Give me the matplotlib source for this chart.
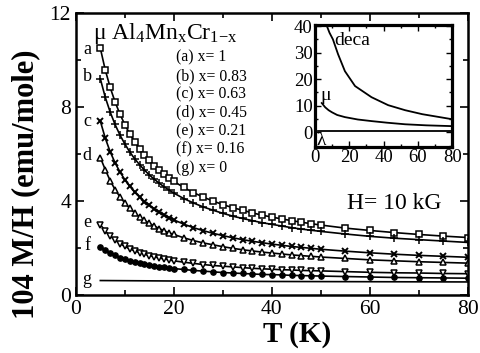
import matplotlib
matplotlib.use("Agg")
import matplotlib.pyplot as plt
from matplotlib.ticker import MultipleLocator

plt.rcParams['font.family'] = ['Liberation Serif', 'DejaVu Serif']
plt.rcParams['mathtext.fontset'] = 'custom'
plt.rcParams['mathtext.rm'] = 'Liberation Serif'
plt.rcParams['mathtext.it'] = 'Liberation Serif:italic'

# temperatures (K) of the measured points
T = [5, 6, 7, 8, 9, 10, 11, 12, 13, 14, 15, 16, 17, 18, 19, 20,
     22, 24, 26, 28, 30, 32, 34, 36, 38, 40, 42, 44, 46, 48, 50,
     55, 60, 65, 70, 75, 80]

# 10^4 M/H (emu/mole)
a = [10.50, 9.58, 8.84, 8.22, 7.70, 7.25, 6.86, 6.53, 6.23, 5.96, 5.73, 5.51, 5.32, 5.15, 4.99, 4.84,
     4.58, 4.36, 4.17, 4.00, 3.85, 3.72, 3.61, 3.50, 3.40, 3.32, 3.24, 3.17, 3.10, 3.04, 2.98,
     2.85, 2.75, 2.66, 2.58, 2.51, 2.45]
b = [9.20, 8.42, 7.79, 7.26, 6.81, 6.43, 6.09, 5.80, 5.55, 5.32, 5.11, 4.93, 4.76, 4.61, 4.47, 4.34,
     4.11, 3.92, 3.75, 3.61, 3.48, 3.36, 3.26, 3.17, 3.08, 3.01, 2.94, 2.87, 2.81, 2.76, 2.71,
     2.60, 2.50, 2.42, 2.36, 2.30, 2.24]
c = [7.40, 6.68, 6.10, 5.63, 5.24, 4.91, 4.63, 4.38, 4.17, 3.98, 3.82, 3.67, 3.53, 3.41, 3.30, 3.20,
     3.02, 2.87, 2.74, 2.63, 2.53, 2.44, 2.36, 2.29, 2.23, 2.17, 2.12, 2.07, 2.03, 1.99, 1.95,
     1.87, 1.80, 1.74, 1.69, 1.65, 1.61]
d = [5.85, 5.34, 4.87, 4.49, 4.18, 3.92, 3.69, 3.50, 3.33, 3.18, 3.05, 2.94, 2.83, 2.74, 2.65, 2.58,
     2.44, 2.32, 2.22, 2.14, 2.06, 1.99, 1.93, 1.88, 1.83, 1.79, 1.75, 1.71, 1.68, 1.65, 1.62,
     1.56, 1.50, 1.46, 1.42, 1.39, 1.36]
e = [3.00, 2.73, 2.51, 2.34, 2.19, 2.07, 1.97, 1.88, 1.81, 1.74, 1.68, 1.63, 1.58, 1.54, 1.50, 1.46,
     1.40, 1.35, 1.30, 1.26, 1.23, 1.20, 1.17, 1.14, 1.12, 1.10, 1.08, 1.07, 1.05, 1.04, 1.03,
     1.00, 0.97, 0.95, 0.94, 0.92, 0.91]
f = [2.05, 1.91, 1.79, 1.69, 1.60, 1.53, 1.47, 1.41, 1.36, 1.32, 1.28, 1.24, 1.21, 1.18, 1.16, 1.13,
     1.09, 1.05, 1.02, 0.99, 0.96, 0.94, 0.92, 0.90, 0.88, 0.87, 0.86, 0.84, 0.83, 0.82, 0.81,
     0.79, 0.77, 0.75, 0.74, 0.73, 0.72]
T_g = [5, 20, 40, 60, 80]
g = [0.62, 0.60, 0.58, 0.57, 0.56]

legend_lines = ["(a) x= 1", "(b) x= 0.83", "(c) x= 0.63", "(d) x= 0.45",
                "(e) x= 0.21", "(f) x= 0.16", "(g) x= 0"]
curve_tags = ["a", "b", "c", "d", "e", "f", "g"]
tag_y = [10.45, 9.3, 7.4, 5.95, 3.1, 2.1, 0.65]

# inset curves
T_deca = [6, 7, 8.5, 10.5, 13.5, 17.5, 23.4, 33, 42.7, 52.6, 62.6, 80]
deca = [43.0, 40.0, 37.5, 35.0, 29.4, 23.0, 17.4, 13.2, 10.2, 8.3, 6.8, 4.9]
T_mu = [4, 6, 8, 10, 13, 17.5, 25, 33, 42, 52.6, 65, 80]
mu = [11.0, 9.4, 8.3, 7.5, 6.5, 5.7, 4.8, 4.2, 3.6, 3.0, 2.6, 2.3]
T_lam = [2, 80]
lam = [0.4, 0.4]

fig = plt.figure(figsize=(4.8, 3.53), dpi=100)
ax = fig.add_axes([0.158, 0.164, 0.817, 0.799])

styles = [
    (a, dict(marker='s', mfc='white', ms=3.8, mew=1.1)),
    (b, dict(marker='+', ms=5.5, mew=1.1)),
    (c, dict(marker='x', ms=4.8, mew=1.4)),
    (d, dict(marker='^', mfc='white', ms=4.3, mew=1.1)),
    (e, dict(marker='v', mfc='white', ms=4.3, mew=1.1)),
    (f, dict(marker='o', mfc='black', ms=3.8, mew=1.0)),
]
for vals, st in styles:
    ax.plot(T, vals, color='black', lw=1.2, mec='black', **st)
ax.plot(T_g, g, color='black', lw=1.2)

for tag, y in zip(curve_tags, tag_y):
    ax.text(2.3, y, tag, fontsize=13, ha='center', va='center')

ax.text(3.4, 11.15, r"μ Al$_4$Mn$_\mathrm{x}$Cr$_{1\mathrm{-x}}$", fontsize=17,
        ha='left', va='center')
for i, s in enumerate(legend_lines):
    ax.text(20.4, 10.1 - i * 0.78, s, fontsize=11.3, ha='left', va='center')
ax.text(55.3, 3.9, "H= 10 kG", fontsize=17, ha='left', va='center')

ax.set_xlim(0, 80)
ax.set_ylim(0, 12)
ax.xaxis.set_major_locator(MultipleLocator(20))
ax.xaxis.set_minor_locator(MultipleLocator(10))
ax.yaxis.set_major_locator(MultipleLocator(4))
ax.yaxis.set_minor_locator(MultipleLocator(2))
ax.tick_params(which='both', direction='in', top=True, right=True, labelsize=15.5, width=1.2)
ax.tick_params(which='major', length=6)
ax.tick_params(which='minor', length=3.5)
for sp in ax.spines.values():
    sp.set_linewidth(1.8)

fig.text(0.619, 0.052, "T (K)", fontsize=21, fontweight='bold', ha='center', va='center')
fig.text(0.054, 0.479, "104 M/H (emu/mole)", fontsize=22, fontweight='bold',
         rotation=90, ha='center', va='center')

ins = fig.add_axes([0.656, 0.584, 0.286, 0.346])
ins.plot(T_deca, deca, color='black', lw=1.3)
ins.plot(T_mu, mu, color='black', lw=1.3)
ins.plot(T_lam, lam, color='black', lw=1.3)
ins.set_xlim(0, 80)
ins.set_ylim(-5.5, 40.5)
ins.xaxis.set_major_locator(MultipleLocator(20))
ins.xaxis.set_minor_locator(MultipleLocator(10))
ins.yaxis.set_major_locator(MultipleLocator(10))
ins.yaxis.set_minor_locator(MultipleLocator(5))
ins.tick_params(which='both', direction='in', top=True, right=True, labelsize=13.5,
                pad=1.5, width=1.0)
ins.tick_params(which='major', length=4)
ins.tick_params(which='minor', length=2)
for sp in ins.spines.values():
    sp.set_linewidth(2.3)
ins.text(11.5, 34.5, "deca", fontsize=14, ha='left', va='center')
ins.text(6.5, 14, "μ", fontsize=14, ha='center', va='center')
ins.text(4, -3.0, "λ", fontsize=14, ha='center', va='center')

fig.savefig("out.png", dpi=100)
